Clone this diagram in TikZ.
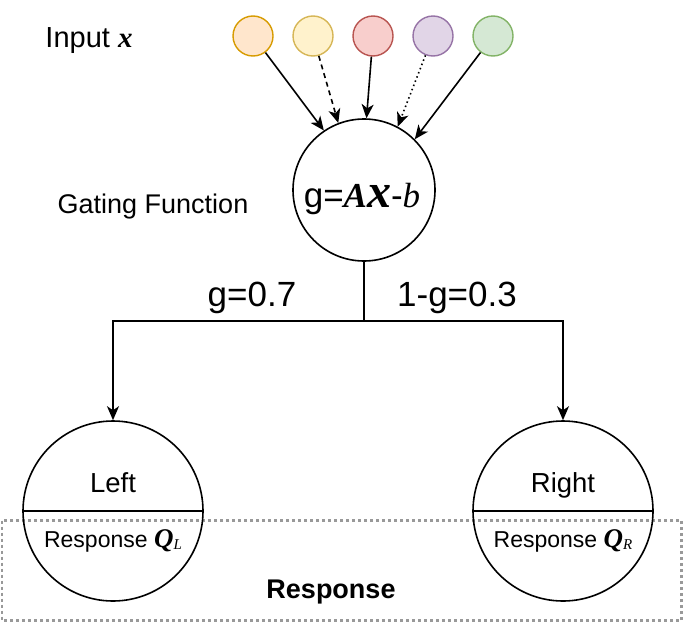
\documentclass[tikz,border=0pt]{standalone}
\usepackage{fontspec}
\setmainfont{Liberation Sans}
\newfontfamily\serifm{Liberation Serif}
\usetikzlibrary{arrows.meta}
\definecolor{oF}{HTML}{FFE6CC}\definecolor{oS}{HTML}{D79B00}
\definecolor{yF}{HTML}{FFF2CC}\definecolor{yS}{HTML}{D6B656}
\definecolor{rF}{HTML}{F8CECC}\definecolor{rS}{HTML}{B85450}
\definecolor{pF}{HTML}{E1D5E7}\definecolor{pS}{HTML}{9673A6}
\definecolor{gF}{HTML}{D5E8D4}\definecolor{gS}{HTML}{82B366}
\definecolor{boxgray}{HTML}{999999}
\newcommand{\fs}[1]{\fontsize{#1}{#1}\selectfont}
\begin{document}
\begin{tikzpicture}[x=1pt,y=-1pt,
  inp/.style={circle,draw,line width=1.4pt,minimum size=40pt,inner sep=0pt},
  bigc/.style={circle,draw,line width=1.6pt,inner sep=0pt},
  arr/.style={line width=1.6pt,-{Stealth[length=14pt,width=12pt,inset=4pt]}},
  lbl/.style={inner sep=0pt,anchor=base}]
\useasboundingbox (0,0) rectangle (684,624);
% response box
\draw[boxgray,line width=2.6pt,dash pattern=on 3pt off 3pt] (2,520.5) rectangle (681.5,620.5);
\node[lbl,font=\bfseries\fs{27}] (resp) at (331,598) {Response};
% inputs
\node[inp,draw=oS,fill=oF] (i1) at (253,36) {};
\node[inp,draw=yS,fill=yF] (i2) at (313,36) {};
\node[inp,draw=rS,fill=rF] (i3) at (373,36) {};
\node[inp,draw=pS,fill=pF] (i4) at (433,36) {};
\node[inp,draw=gS,fill=gF] (i5) at (493,36) {};
\node[lbl,font=\fs{29}] (inlbl) at (89,47) {Input {\serifm\bfseries\itshape x}};
% gating
\node[bigc,minimum size=142pt] (g) at (364,190) {};
\node[lbl] (gtext) at (362,207) {\fs{35}g=\serifm\bfseries\itshape A\fs{48}x\fs{35}\normalfont\mdseries\upshape-{\serifm\itshape b}};
\node[lbl,font=\fs{27}] (gf) at (153,213) {Gating Function};
\draw[arr] (i1) -- (g.124);
\draw[arr,dash pattern=on 5pt off 4pt] (i2) -- (g.111);
\draw[arr] (i3) -- (g.88);
\draw[arr,dash pattern=on 1.5pt off 3pt] (i4) -- (g.62);
\draw[arr] (i5) -- (g.45);
% children
\node[bigc,minimum size=180pt] (L) at (113,511) {};
\node[bigc,minimum size=180pt] (R) at (563,511) {};
\draw[line width=1.6pt] (L.west) -- (L.east);
\draw[line width=1.6pt] (R.west) -- (R.east);
\node[lbl,font=\fs{27.5}] (lt) at (113,492) {Left};
\node[lbl,font=\fs{27.5}] (rt) at (563,492) {Right};
\node[lbl,font=\fs{23}] (lq) at (113,547) {Response {\serifm\bfseries\itshape\fs{27}Q}{\serifm\itshape\fs{15}\raisebox{-2pt}{L}}};
\node[lbl,font=\fs{23}] (rq) at (563,547) {Response {\serifm\bfseries\itshape\fs{27}Q}{\serifm\itshape\fs{15}\raisebox{-2pt}{R}}};
% split connectors
\coordinate (split) at (364,321);
\draw[line width=1.6pt] (g.south) -- (split);
\draw[arr] (split) -| (L.north);
\draw[arr] (split) -| (R.north);
\node[lbl,font=\fs{35}] (gl) at (252,306) {g=0.7};
\node[lbl,font=\fs{35}] (gr) at (457,306) {1-g=0.3};
\end{tikzpicture}
\end{document}
